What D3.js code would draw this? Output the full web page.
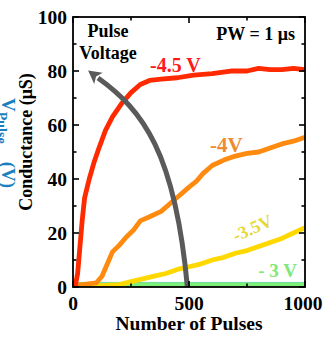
<!DOCTYPE html>
<html>
<head>
<meta charset="utf-8">
<script src="https://cdn.jsdelivr.net/npm/d3@7"></script>
<style>
  html, body { margin: 0; padding: 0; background: #fff; }
  svg { display: block; }
  text { font-family: "Liberation Serif", "Times New Roman", serif; font-weight: bold; }
</style>
</head>
<body>
<svg id="chart" width="324" height="339"></svg>
<script>
// Conductance vs. number of pulses for four pulse amplitudes (PW = 1 µs)
const pulses45 = [0, 10, 20, 25, 30, 40, 50, 70, 90, 110, 140, 170, 210, 250, 290, 330, 380, 450, 520, 600, 680, 750, 800, 850, 900, 950, 1000];
const g45      = [0, 0.5, 5, 10, 15, 25, 33, 40, 46, 51, 58, 63, 68, 72, 75, 76.5, 77, 77.5, 78.5, 79, 80, 80, 81, 80.5, 80.5, 81, 80.5];

const pulses40 = [0, 50, 100, 125, 150, 170, 200, 230, 260, 290, 330, 380, 420, 460, 500, 530, 560, 600, 650, 700, 750, 800, 850, 900, 950, 1000];
const g40      = [0.5, 1, 1.5, 4, 9, 13, 15.5, 18.5, 21, 24.5, 26, 28, 31, 34, 37, 39, 42, 45, 47, 48.5, 49.5, 50, 51.5, 53, 54, 55.5];

const pulses35 = [0, 100, 200, 250, 300, 350, 400, 450, 500, 550, 600, 650, 700, 750, 800, 850, 900, 950, 1000];
const g35      = [0.3, 0.4, 0.9, 2, 3, 4, 5, 6.5, 7.5, 8.5, 10, 11, 12.5, 13.5, 15, 16.5, 18, 20, 22];

const pulses30 = [0, 250, 500, 750, 1000];
const g30      = [0.8, 0.8, 0.8, 0.8, 0.8];

const xTicks = [0, 500, 1000];
const yTicks = [0, 20, 40, 60, 80, 100];
const seriesLabels = ["-4.5 V", "-4V", "-3.5V", "- 3 V"];

const svg = d3.select("#chart");
const x = d3.scaleLinear().domain([0, 1000]).range([73, 305]);
const y = d3.scaleLinear().domain([0, 100]).range([287, 17]);

const clipId = "plotclip";
svg.append("defs").append("clipPath").attr("id", clipId)
  .append("rect").attr("x", 73).attr("y", 17).attr("width", 232).attr("height", 270);

// Axis title of the neighbouring panel, running off the left edge
svg.append("text")
  .attr("transform", "translate(2,98) rotate(90)")
  .attr("fill", "#1a7fc0")
  .style("font-size", "19px")
  .call(t => {
    t.append("tspan").text("V");
    t.append("tspan").attr("dy", 5).style("font-size", "14px").text("Pulse");
    t.append("tspan").attr("dy", -5).attr("dx", 18).text("(V)");
  });

const line = d3.line().x(d => x(d[0])).y(d => y(d[1])).curve(d3.curveLinear);
const plot = svg.append("g").attr("clip-path", `url(#${clipId})`);

const series = [
  { xs: pulses30, ys: g30, color: "#7ef07a", w: 4.8 },
  { xs: pulses35, ys: g35, color: "#ffd800", w: 4.8 },
  { xs: pulses40, ys: g40, color: "#ff8a10", w: 4.8 },
  { xs: pulses45, ys: g45, color: "#ff2a00", w: 4.8 },
];
// thin teal trace under the -3 V line
plot.append("path")
  .attr("d", line(pulses30.map((p, i) => [p, g30[i] + 0.9])))
  .attr("fill", "none").attr("stroke", "#5cc8b8").attr("stroke-width", 1);

series.forEach(s => {
  plot.append("path")
    .attr("d", line(s.xs.map((p, i) => [p, s.ys[i]])))
    .attr("fill", "none")
    .attr("stroke", s.color)
    .attr("stroke-width", s.w)
    .attr("stroke-linejoin", "round")
    .attr("stroke-linecap", "round");
});

// "Pulse Voltage" direction arrow
const arrowPts = [[493, 0], [440, 50], [300, 65.5], [108, 77.4]];
const ap = arrowPts.map(p => [x(p[0]), y(p[1])]);
const arrowPath = d3.path();
arrowPath.moveTo(ap[0][0], ap[0][1]);
arrowPath.bezierCurveTo(ap[1][0], ap[1][1], ap[2][0], ap[2][1], ap[3][0], ap[3][1]);
svg.append("path").attr("d", arrowPath.toString())
  .attr("fill", "none").attr("stroke", "#5a5a5a").attr("stroke-width", 5);
{
  const tip = [x(65), y(80.2)];
  const dx = tip[0] - ap[3][0], dy = tip[1] - ap[3][1];
  const len = Math.hypot(dx, dy), ux = dx / len, uy = dy / len;
  const bx = tip[0] - ux * 13, by = tip[1] - uy * 13;
  const hw = 7;
  svg.append("path")
    .attr("d", `M${tip[0]},${tip[1]} L${bx - uy * hw},${by + ux * hw} L${bx + ux * 3},${by + uy * 3} L${bx + uy * hw},${by - ux * hw} Z`)
    .attr("fill", "#5a5a5a");
}

// Frame and ticks
const axisW = 1.8;
svg.append("rect").attr("x", 73).attr("y", 17).attr("width", 232).attr("height", 270)
  .attr("fill", "none").attr("stroke", "#000").attr("stroke-width", axisW);

const yMinor = d3.range(0, 101, 10);
yMinor.forEach(v => {
  const major = v % 20 === 0;
  const len = major ? 6 : 3.5;
  svg.append("line").attr("x1", 73).attr("x2", 73 + len).attr("y1", y(v)).attr("y2", y(v))
    .attr("stroke", "#000").attr("stroke-width", 1.6);
  svg.append("line").attr("x1", 305).attr("x2", 305 - len).attr("y1", y(v)).attr("y2", y(v))
    .attr("stroke", "#000").attr("stroke-width", 1.6);
});
const xMinor = d3.range(0, 1001, 250);
xMinor.forEach(v => {
  const major = v % 500 === 0;
  const len = major ? 6 : 3.5;
  svg.append("line").attr("x1", x(v)).attr("x2", x(v)).attr("y1", 17).attr("y2", 17 + len)
    .attr("stroke", "#000").attr("stroke-width", 1.6);
  svg.append("line").attr("x1", x(v)).attr("x2", x(v)).attr("y1", 287).attr("y2", 287 - len)
    .attr("stroke", "#000").attr("stroke-width", 1.6);
});

// Tick labels
svg.append("g").selectAll("text").data(yTicks).join("text")
  .attr("x", 67).attr("y", d => y(d) + 6.5)
  .attr("text-anchor", "end").style("font-size", "19.5px").text(d => d);
svg.append("g").selectAll("text").data(xTicks).join("text")
  .attr("x", d => x(d) - (d === 1000 ? 2 : 0)).attr("y", 310)
  .attr("text-anchor", "middle").style("font-size", "19.5px").text(d => d);

// Axis titles
svg.append("text").attr("x", 189).attr("y", 330).attr("text-anchor", "middle")
  .style("font-size", "19.5px").text("Number of Pulses");
svg.append("text").attr("transform", "translate(32,142) rotate(-90)").attr("text-anchor", "middle")
  .style("font-size", "18px").text("Conductance (μS)");

// Annotations
svg.append("text").attr("x", 295).attr("y", 40).attr("text-anchor", "end")
  .style("font-size", "18px").text("PW = 1 μs");
svg.append("text").attr("x", 108).attr("y", 37).attr("text-anchor", "middle")
  .style("font-size", "18px").text("Pulse");
svg.append("text").attr("x", 108).attr("y", 59).attr("text-anchor", "middle")
  .style("font-size", "18px").text("Voltage");

// Series labels
svg.append("text").attr("x", 150).attr("y", 72).attr("fill", "#ff1a1a")
  .style("font-size", "20px").text(seriesLabels[0]);
svg.append("text").attr("x", 210).attr("y", 152).attr("fill", "#f08a30")
  .style("font-size", "21px").text(seriesLabels[1]);
svg.append("text").attr("transform", "translate(236,242) rotate(-24)").attr("fill", "#e6d83a")
  .style("font-size", "18px").text(seriesLabels[2]);
svg.append("text").attr("x", 297).attr("y", 277).attr("text-anchor", "end").attr("fill", "#7ee87a")
  .style("font-size", "19px").text(seriesLabels[3]);
</script>
</body>
</html>
